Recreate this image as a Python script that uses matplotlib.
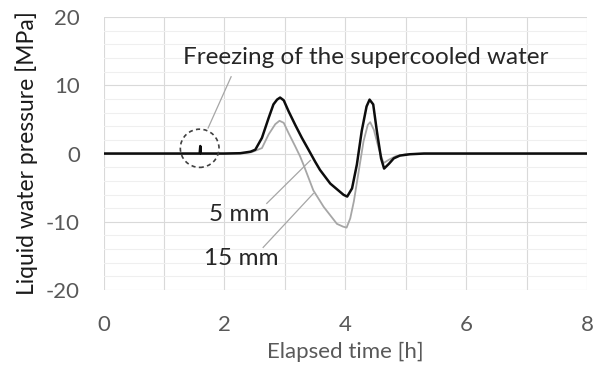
import numpy as np
import matplotlib
matplotlib.use('Agg')
import matplotlib.pyplot as plt
from matplotlib.patches import Ellipse

plt.rcParams['font.family'] = ['Lato', 'DejaVu Sans']
plt.rcParams['axes.unicode_minus'] = False

### Data
t_5mm = [0.0, 1.59, 1.6, 1.61, 2.0, 2.26, 2.43, 2.51, 2.62, 2.73, 2.81, 2.87, 2.92,
         2.98, 3.06, 3.17, 3.28, 3.39, 3.50, 3.58, 3.75, 3.91, 3.97, 4.03, 4.11, 4.19,
         4.27, 4.35, 4.40, 4.46, 4.52, 4.59, 4.64, 4.72, 4.80, 4.90, 5.07, 5.3, 8.0]
p_5mm = [0.0, 0.0, 1.1, 0.0, 0.0, 0.05, 0.27, 0.56, 2.3, 5.2, 7.2, 7.9, 8.2,
         7.8, 6.2, 4.2, 2.3, 0.56, -1.2, -2.4, -4.4, -5.6, -6.05, -6.3, -5.1, -1.6,
         3.3, 6.9, 7.9, 7.2, 3.3, -0.7, -2.2, -1.5, -0.7, -0.3, -0.1, 0.0, 0.0]

t_15mm = [0.0, 2.0, 2.3, 2.45, 2.62, 2.73, 2.84, 2.91, 2.98, 3.06, 3.17, 3.25, 3.31,
          3.47, 3.64, 3.86, 3.96, 4.02, 4.08, 4.14, 4.22, 4.30, 4.37, 4.41, 4.47,
          4.55, 4.63, 4.72, 4.83, 5.0, 5.3, 8.0]
p_15mm = [0.0, 0.0, 0.03, 0.2, 0.8, 2.8, 4.3, 4.8, 4.5, 3.0, 1.06, -0.4, -1.7,
          -5.4, -7.8, -10.3, -10.7, -10.85, -9.5, -7.0, -2.6, 1.8, 4.2, 4.6, 3.5,
          0.8, -1.4, -0.9, -0.4, -0.1, 0.0, 0.0]

xticks = [0, 2, 4, 6, 8]
yticks = [-20, -10, 0, 10, 20]

fig = plt.figure(figsize=(5.95, 3.7), dpi=100)
ax = fig.add_axes([0.174, 0.216, 0.813, 0.738])

ax.plot(t_15mm, p_15mm, color='#a6a6a6', lw=1.3, zorder=3, solid_joinstyle='round')
ax.plot(t_5mm, p_5mm, color='#0d0d0d', lw=1.8, zorder=4, solid_joinstyle='round')

ax.set_xlim(0, 8)
ax.set_ylim(-20, 20)
ax.set_xticks(xticks)
ax.set_yticks(yticks)
ax.set_xticks(np.arange(0, 9, 1), minor=True)
ax.set_yticks(np.arange(-20, 21, 2), minor=True)
ax.grid(which='minor', color='#efefef', lw=0.8, zorder=0)
ax.grid(which='major', color='#d9d9d9', lw=0.8, zorder=1)
ax.grid(which='minor', axis='x', color='#d9d9d9', lw=0.8, zorder=1)
for s in ax.spines.values():
    s.set_visible(False)
ax.tick_params(which='both', length=0, labelsize=16, labelcolor='#595959')
ax.tick_params(axis='y', pad=17)
ax.tick_params(axis='x', pad=18)
ax.set_xlabel('Elapsed time [h]', fontsize=16, color='#595959', labelpad=5)
ax.set_ylabel('Liquid water pressure [MPa]', fontsize=16.5, color='#1a1a1a', labelpad=6)

# annotations
circ = Ellipse((1.59, 0.77), 0.64, 5.6, fill=False, ls=(0, (2.5, 2)), lw=1.2,
               edgecolor='#404040', zorder=5)
ax.add_patch(circ)
ax.plot([1.73, 2.11], [3.75, 11.25], color='#a6a6a6', lw=0.9, zorder=5)
ax.text(1.31, 14.0, 'Freezing of the supercooled water', fontsize=17.5,
        color='#262626', va='center', ha='left', zorder=6)

ax.plot([2.70, 3.42], [-7.3, -1.0], color='#a6a6a6', lw=0.9, zorder=5)
ax.text(2.24, -9.0, '5 mm', fontsize=17.5, color='#262626', va='center', ha='center')
ax.plot([2.64, 3.47], [-13.75, -5.85], color='#a6a6a6', lw=0.9, zorder=5)
ax.text(2.27, -15.4, '15 mm', fontsize=17.5, color='#262626', va='center', ha='center')

plt.savefig('out.png', dpi=100)
